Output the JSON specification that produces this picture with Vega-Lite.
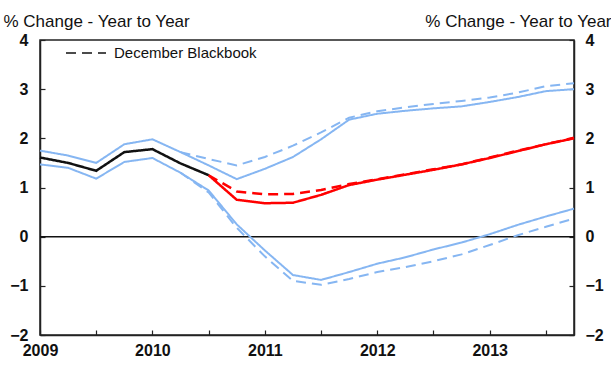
{
 "$schema": "https://vega.github.io/schema/vega-lite/v6.json",
 "width": 534, "height": 295,
 "autosize": {"type": "none"},
 "padding": {"left": 40, "top": 40, "right": 37, "bottom": 38},
 "config": {
  "font": "Liberation Sans",
  "view": {"stroke": "#222", "strokeWidth": 1.5},
  "axis": {"grid": false, "domainColor": "#222", "domainWidth": 1.5, "tickColor": "#222", "tickWidth": 1.2, "labelFont": "Liberation Sans", "labelFontSize": 16, "labelFontWeight": "bold", "labelColor": "#111"}
 },
 "datasets": {
  "lines": [
   {"year": 2009.0, "kind": "history", "vintage": "Current", "series": "hist", "value": 1.61},
   {"year": 2009.25, "kind": "history", "vintage": "Current", "series": "hist", "value": 1.5},
   {"year": 2009.5, "kind": "history", "vintage": "Current", "series": "hist", "value": 1.34},
   {"year": 2009.75, "kind": "history", "vintage": "Current", "series": "hist", "value": 1.72},
   {"year": 2010.0, "kind": "history", "vintage": "Current", "series": "hist", "value": 1.78},
   {"year": 2010.25, "kind": "history", "vintage": "Current", "series": "hist", "value": 1.49},
   {"year": 2010.5, "kind": "history", "vintage": "Current", "series": "hist", "value": 1.25},

   {"year": 2009.0, "kind": "band", "vintage": "Current", "series": "upper", "value": 1.75},
   {"year": 2009.25, "kind": "band", "vintage": "Current", "series": "upper", "value": 1.65},
   {"year": 2009.5, "kind": "band", "vintage": "Current", "series": "upper", "value": 1.5},
   {"year": 2009.75, "kind": "band", "vintage": "Current", "series": "upper", "value": 1.88},
   {"year": 2010.0, "kind": "band", "vintage": "Current", "series": "upper", "value": 1.98},
   {"year": 2010.25, "kind": "band", "vintage": "Current", "series": "upper", "value": 1.72},
   {"year": 2010.5, "kind": "band", "vintage": "Current", "series": "upper", "value": 1.45},
   {"year": 2010.75, "kind": "band", "vintage": "Current", "series": "upper", "value": 1.17},
   {"year": 2011.0, "kind": "band", "vintage": "Current", "series": "upper", "value": 1.38},
   {"year": 2011.25, "kind": "band", "vintage": "Current", "series": "upper", "value": 1.62},
   {"year": 2011.5, "kind": "band", "vintage": "Current", "series": "upper", "value": 1.98},
   {"year": 2011.75, "kind": "band", "vintage": "Current", "series": "upper", "value": 2.38},
   {"year": 2012.0, "kind": "band", "vintage": "Current", "series": "upper", "value": 2.5},
   {"year": 2012.25, "kind": "band", "vintage": "Current", "series": "upper", "value": 2.56},
   {"year": 2012.5, "kind": "band", "vintage": "Current", "series": "upper", "value": 2.61},
   {"year": 2012.75, "kind": "band", "vintage": "Current", "series": "upper", "value": 2.65},
   {"year": 2013.0, "kind": "band", "vintage": "Current", "series": "upper", "value": 2.74},
   {"year": 2013.25, "kind": "band", "vintage": "Current", "series": "upper", "value": 2.84},
   {"year": 2013.5, "kind": "band", "vintage": "Current", "series": "upper", "value": 2.96},
   {"year": 2013.75, "kind": "band", "vintage": "Current", "series": "upper", "value": 3.0},

   {"year": 2009.0, "kind": "band", "vintage": "Current", "series": "lower", "value": 1.47},
   {"year": 2009.25, "kind": "band", "vintage": "Current", "series": "lower", "value": 1.4},
   {"year": 2009.5, "kind": "band", "vintage": "Current", "series": "lower", "value": 1.18},
   {"year": 2009.75, "kind": "band", "vintage": "Current", "series": "lower", "value": 1.52},
   {"year": 2010.0, "kind": "band", "vintage": "Current", "series": "lower", "value": 1.6},
   {"year": 2010.25, "kind": "band", "vintage": "Current", "series": "lower", "value": 1.3},
   {"year": 2010.5, "kind": "band", "vintage": "Current", "series": "lower", "value": 0.94},
   {"year": 2010.75, "kind": "band", "vintage": "Current", "series": "lower", "value": 0.25},
   {"year": 2011.0, "kind": "band", "vintage": "Current", "series": "lower", "value": -0.28},
   {"year": 2011.25, "kind": "band", "vintage": "Current", "series": "lower", "value": -0.78},
   {"year": 2011.5, "kind": "band", "vintage": "Current", "series": "lower", "value": -0.88},
   {"year": 2011.75, "kind": "band", "vintage": "Current", "series": "lower", "value": -0.72},
   {"year": 2012.0, "kind": "band", "vintage": "Current", "series": "lower", "value": -0.55},
   {"year": 2012.25, "kind": "band", "vintage": "Current", "series": "lower", "value": -0.42},
   {"year": 2012.5, "kind": "band", "vintage": "Current", "series": "lower", "value": -0.26},
   {"year": 2012.75, "kind": "band", "vintage": "Current", "series": "lower", "value": -0.12},
   {"year": 2013.0, "kind": "band", "vintage": "Current", "series": "lower", "value": 0.05},
   {"year": 2013.25, "kind": "band", "vintage": "Current", "series": "lower", "value": 0.24},
   {"year": 2013.5, "kind": "band", "vintage": "Current", "series": "lower", "value": 0.41},
   {"year": 2013.75, "kind": "band", "vintage": "Current", "series": "lower", "value": 0.57},

   {"year": 2010.25, "kind": "band", "vintage": "December Blackbook", "series": "upper", "value": 1.72},
   {"year": 2010.5, "kind": "band", "vintage": "December Blackbook", "series": "upper", "value": 1.58},
   {"year": 2010.75, "kind": "band", "vintage": "December Blackbook", "series": "upper", "value": 1.45},
   {"year": 2011.0, "kind": "band", "vintage": "December Blackbook", "series": "upper", "value": 1.62},
   {"year": 2011.25, "kind": "band", "vintage": "December Blackbook", "series": "upper", "value": 1.85},
   {"year": 2011.5, "kind": "band", "vintage": "December Blackbook", "series": "upper", "value": 2.12},
   {"year": 2011.75, "kind": "band", "vintage": "December Blackbook", "series": "upper", "value": 2.42},
   {"year": 2012.0, "kind": "band", "vintage": "December Blackbook", "series": "upper", "value": 2.55},
   {"year": 2012.25, "kind": "band", "vintage": "December Blackbook", "series": "upper", "value": 2.63},
   {"year": 2012.5, "kind": "band", "vintage": "December Blackbook", "series": "upper", "value": 2.7},
   {"year": 2012.75, "kind": "band", "vintage": "December Blackbook", "series": "upper", "value": 2.76},
   {"year": 2013.0, "kind": "band", "vintage": "December Blackbook", "series": "upper", "value": 2.83},
   {"year": 2013.25, "kind": "band", "vintage": "December Blackbook", "series": "upper", "value": 2.93},
   {"year": 2013.5, "kind": "band", "vintage": "December Blackbook", "series": "upper", "value": 3.06},
   {"year": 2013.75, "kind": "band", "vintage": "December Blackbook", "series": "upper", "value": 3.12},

   {"year": 2010.25, "kind": "band", "vintage": "December Blackbook", "series": "lower", "value": 1.3},
   {"year": 2010.5, "kind": "band", "vintage": "December Blackbook", "series": "lower", "value": 0.9},
   {"year": 2010.75, "kind": "band", "vintage": "December Blackbook", "series": "lower", "value": 0.18},
   {"year": 2011.0, "kind": "band", "vintage": "December Blackbook", "series": "lower", "value": -0.4},
   {"year": 2011.25, "kind": "band", "vintage": "December Blackbook", "series": "lower", "value": -0.9},
   {"year": 2011.5, "kind": "band", "vintage": "December Blackbook", "series": "lower", "value": -0.98},
   {"year": 2011.75, "kind": "band", "vintage": "December Blackbook", "series": "lower", "value": -0.86},
   {"year": 2012.0, "kind": "band", "vintage": "December Blackbook", "series": "lower", "value": -0.72},
   {"year": 2012.25, "kind": "band", "vintage": "December Blackbook", "series": "lower", "value": -0.62},
   {"year": 2012.5, "kind": "band", "vintage": "December Blackbook", "series": "lower", "value": -0.5},
   {"year": 2012.75, "kind": "band", "vintage": "December Blackbook", "series": "lower", "value": -0.36},
   {"year": 2013.0, "kind": "band", "vintage": "December Blackbook", "series": "lower", "value": -0.17},
   {"year": 2013.25, "kind": "band", "vintage": "December Blackbook", "series": "lower", "value": 0.03},
   {"year": 2013.5, "kind": "band", "vintage": "December Blackbook", "series": "lower", "value": 0.2},
   {"year": 2013.75, "kind": "band", "vintage": "December Blackbook", "series": "lower", "value": 0.37},

   {"year": 2010.5, "kind": "forecast", "vintage": "Current", "series": "central", "value": 1.25},
   {"year": 2010.75, "kind": "forecast", "vintage": "Current", "series": "central", "value": 0.75},
   {"year": 2011.0, "kind": "forecast", "vintage": "Current", "series": "central", "value": 0.68},
   {"year": 2011.25, "kind": "forecast", "vintage": "Current", "series": "central", "value": 0.69},
   {"year": 2011.5, "kind": "forecast", "vintage": "Current", "series": "central", "value": 0.85},
   {"year": 2011.75, "kind": "forecast", "vintage": "Current", "series": "central", "value": 1.05},
   {"year": 2012.0, "kind": "forecast", "vintage": "Current", "series": "central", "value": 1.16},
   {"year": 2012.25, "kind": "forecast", "vintage": "Current", "series": "central", "value": 1.26},
   {"year": 2012.5, "kind": "forecast", "vintage": "Current", "series": "central", "value": 1.36},
   {"year": 2012.75, "kind": "forecast", "vintage": "Current", "series": "central", "value": 1.47},
   {"year": 2013.0, "kind": "forecast", "vintage": "Current", "series": "central", "value": 1.6},
   {"year": 2013.25, "kind": "forecast", "vintage": "Current", "series": "central", "value": 1.74},
   {"year": 2013.5, "kind": "forecast", "vintage": "Current", "series": "central", "value": 1.88},
   {"year": 2013.75, "kind": "forecast", "vintage": "Current", "series": "central", "value": 2.0},

   {"year": 2010.5, "kind": "forecast", "vintage": "December Blackbook", "series": "central", "value": 1.25},
   {"year": 2010.75, "kind": "forecast", "vintage": "December Blackbook", "series": "central", "value": 0.92},
   {"year": 2011.0, "kind": "forecast", "vintage": "December Blackbook", "series": "central", "value": 0.86},
   {"year": 2011.25, "kind": "forecast", "vintage": "December Blackbook", "series": "central", "value": 0.87},
   {"year": 2011.5, "kind": "forecast", "vintage": "December Blackbook", "series": "central", "value": 0.95},
   {"year": 2011.75, "kind": "forecast", "vintage": "December Blackbook", "series": "central", "value": 1.07},
   {"year": 2012.0, "kind": "forecast", "vintage": "December Blackbook", "series": "central", "value": 1.17},
   {"year": 2012.25, "kind": "forecast", "vintage": "December Blackbook", "series": "central", "value": 1.27},
   {"year": 2012.5, "kind": "forecast", "vintage": "December Blackbook", "series": "central", "value": 1.37},
   {"year": 2012.75, "kind": "forecast", "vintage": "December Blackbook", "series": "central", "value": 1.47},
   {"year": 2013.0, "kind": "forecast", "vintage": "December Blackbook", "series": "central", "value": 1.61},
   {"year": 2013.25, "kind": "forecast", "vintage": "December Blackbook", "series": "central", "value": 1.75},
   {"year": 2013.5, "kind": "forecast", "vintage": "December Blackbook", "series": "central", "value": 1.88},
   {"year": 2013.75, "kind": "forecast", "vintage": "December Blackbook", "series": "central", "value": 2.01}
  ],
  "zero": [{"value": 0}]
 },
 "layer": [
  {
   "data": {"name": "zero"},
   "mark": {"type": "rule", "color": "#111", "strokeWidth": 1.5},
   "encoding": {
    "y": {"field": "value", "type": "quantitative", "scale": {"domain": [-2, 4], "nice": false},
     "axis": {"orient": "right", "values": [-2, -1, 0, 1, 2, 3, 4], "tickSize": -5, "labelPadding": 16, "labelAlign": "left",
      "title": "% Change - Year to Year", "titleAngle": 0, "titleAlign": "right", "titleBaseline": "alphabetic", "titleX": 37, "titleY": -14,
      "titleFontSize": 17, "titleFontWeight": "normal", "titleColor": "#111", "titleFont": "Liberation Sans"}}
   }
  },
  {
   "data": {"name": "lines"},
   "transform": [{"filter": "datum.kind === 'band'"}],
   "mark": {"type": "line", "strokeWidth": 2, "color": "#86b6f2"},
   "encoding": {
    "x": {"field": "year", "type": "quantitative", "scale": {"domain": [2009, 2013.75], "nice": false, "zero": false},
     "axis": {"title": null, "values": [2009, 2009.25, 2009.5, 2009.75, 2010, 2010.25, 2010.5, 2010.75, 2011, 2011.25, 2011.5, 2011.75, 2012, 2012.25, 2012.5, 2012.75, 2013, 2013.25, 2013.5, 2013.75],
      "labelExpr": "datum.value % 1 === 0 ? format(datum.value, 'd') : ''", "tickSize": -5, "labelPadding": 12, "labelFlush": false}},
    "y": {"field": "value", "type": "quantitative", "scale": {"domain": [-2, 4], "nice": false},
     "axis": {"orient": "left", "values": [-2, -1, 0, 1, 2, 3, 4], "tickSize": -5, "labelPadding": 17,
      "title": "% Change - Year to Year", "titleAngle": 0, "titleAlign": "left", "titleBaseline": "alphabetic", "titleX": -37, "titleY": -14,
      "titleFontSize": 17, "titleFontWeight": "normal", "titleColor": "#111", "titleFont": "Liberation Sans"}},
    "detail": {"field": "series"},
    "strokeDash": {"field": "vintage", "type": "nominal",
     "scale": {"domain": ["Current", "December Blackbook"], "range": [[1, 0], [10, 6]]},
     "legend": {"orient": "none", "legendX": 25, "legendY": -8, "values": ["December Blackbook"], "title": null,
      "symbolType": "stroke", "symbolSize": 1600, "symbolStrokeWidth": 1.5, "symbolStrokeColor": "#111",
      "labelFontSize": 15, "labelFont": "Liberation Sans", "labelColor": "#111", "labelOffset": 7,
      "encode": {"symbols": {"enter": {"stroke": {"value": "#111"}, "strokeDash": {"value": [5, 3]}}, "update": {"stroke": {"value": "#111"}, "strokeDash": {"value": [5, 3]}, "strokeWidth": {"value": 1.5}}}}}}
   }
  },
  {
   "data": {"name": "lines"},
   "transform": [{"filter": "datum.kind === 'forecast'"}],
   "mark": {"type": "line", "strokeWidth": 2.5, "color": "#ff0000"},
   "encoding": {
    "x": {"field": "year", "type": "quantitative"},
    "y": {"field": "value", "type": "quantitative", "axis": null},
    "strokeDash": {"field": "vintage", "type": "nominal"}
   }
  },
  {
   "data": {"name": "lines"},
   "transform": [{"filter": "datum.kind === 'history'"}],
   "mark": {"type": "line", "strokeWidth": 2.5, "color": "#111"},
   "encoding": {
    "x": {"field": "year", "type": "quantitative"},
    "y": {"field": "value", "type": "quantitative", "axis": null},
    "strokeDash": {"field": "vintage", "type": "nominal"}
   }
  }
 ],
 "resolve": {"axis": {"y": "independent"}}
}
